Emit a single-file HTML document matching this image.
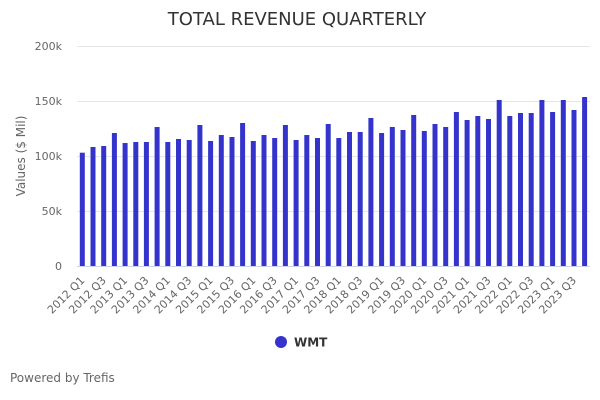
<!DOCTYPE html>
<html>
<head>
<meta charset="utf-8">
<style>
html,body{margin:0;padding:0;background:#fff;}
svg{display:block;font-family:"DejaVu Sans","Liberation Sans",sans-serif;}
</style>
</head>
<body>
<svg width="600" height="400" viewBox="0 0 600 400" xmlns="http://www.w3.org/2000/svg">
<rect x="0" y="0" width="600" height="400" fill="#ffffff"/>
<text x="297" y="25" text-anchor="middle" font-size="18" fill="#333333">TOTAL REVENUE QUARTERLY</text>
<g stroke="#e6e6e6" stroke-width="1">
<line x1="77" y1="46.5" x2="590" y2="46.5"/>
<line x1="77" y1="101.5" x2="590" y2="101.5"/>
<line x1="77" y1="156.5" x2="590" y2="156.5"/>
<line x1="77" y1="211.5" x2="590" y2="211.5"/>
</g>
<g font-size="11" fill="#666666" text-anchor="end">
<text x="62" y="50">200k</text>
<text x="62" y="105">150k</text>
<text x="62" y="160">100k</text>
<text x="62" y="215">50k</text>
<text x="62" y="270">0</text>
</g>
<text transform="translate(25,156) rotate(-90)" text-anchor="middle" font-size="12" fill="#666666">Values ($ Mil)</text>
<g fill="#3434cc">
<rect x="79.8" y="152.7" width="5" height="113.3"/>
<rect x="90.5" y="147" width="5" height="119"/>
<rect x="101.2" y="146" width="5" height="120"/>
<rect x="111.9" y="133" width="5" height="133"/>
<rect x="122.6" y="143" width="5" height="123"/>
<rect x="133.3" y="142" width="5" height="124"/>
<rect x="143.9" y="142" width="5" height="124"/>
<rect x="154.6" y="127" width="5" height="139"/>
<rect x="165.3" y="142" width="5" height="124"/>
<rect x="176.0" y="139" width="5" height="127"/>
<rect x="186.7" y="140" width="5" height="126"/>
<rect x="197.4" y="125" width="5" height="141"/>
<rect x="208.1" y="141" width="5" height="125"/>
<rect x="218.8" y="135" width="5" height="131"/>
<rect x="229.5" y="137" width="5" height="129"/>
<rect x="240.1" y="123" width="5" height="143"/>
<rect x="250.8" y="141" width="5" height="125"/>
<rect x="261.5" y="135" width="5" height="131"/>
<rect x="272.2" y="138" width="5" height="128"/>
<rect x="282.9" y="125" width="5" height="141"/>
<rect x="293.6" y="140" width="5" height="126"/>
<rect x="304.3" y="135" width="5" height="131"/>
<rect x="315.0" y="138" width="5" height="128"/>
<rect x="325.7" y="124" width="5" height="142"/>
<rect x="336.3" y="138" width="5" height="128"/>
<rect x="347.0" y="132" width="5" height="134"/>
<rect x="357.7" y="132" width="5" height="134"/>
<rect x="368.4" y="118" width="5" height="148"/>
<rect x="379.1" y="133" width="5" height="133"/>
<rect x="389.8" y="127" width="5" height="139"/>
<rect x="400.5" y="130" width="5" height="136"/>
<rect x="411.2" y="115" width="5" height="151"/>
<rect x="421.8" y="131" width="5" height="135"/>
<rect x="432.5" y="124" width="5" height="142"/>
<rect x="443.2" y="127" width="5" height="139"/>
<rect x="453.9" y="112" width="5" height="154"/>
<rect x="464.6" y="120" width="5" height="146"/>
<rect x="475.3" y="116" width="5" height="150"/>
<rect x="486.0" y="119" width="5" height="147"/>
<rect x="496.7" y="100" width="5" height="166"/>
<rect x="507.3" y="116" width="5" height="150"/>
<rect x="518.0" y="113" width="5" height="153"/>
<rect x="528.7" y="113" width="5" height="153"/>
<rect x="539.4" y="100" width="5" height="166"/>
<rect x="550.1" y="112" width="5" height="154"/>
<rect x="560.8" y="100" width="5" height="166"/>
<rect x="571.5" y="110" width="5" height="156"/>
<rect x="582.1" y="97" width="5" height="169"/>
</g>
<line x1="77" y1="266.5" x2="590" y2="266.5" stroke="#ccd6eb" stroke-width="1"/>
<g font-size="11" fill="#666666" text-anchor="end">
<text x="85.3" y="281" transform="rotate(-45 85.3 281)">2012 Q1</text>
<text x="106.7" y="281" transform="rotate(-45 106.7 281)">2012 Q3</text>
<text x="128.1" y="281" transform="rotate(-45 128.1 281)">2013 Q1</text>
<text x="149.4" y="281" transform="rotate(-45 149.4 281)">2013 Q3</text>
<text x="170.8" y="281" transform="rotate(-45 170.8 281)">2014 Q1</text>
<text x="192.2" y="281" transform="rotate(-45 192.2 281)">2014 Q3</text>
<text x="213.6" y="281" transform="rotate(-45 213.6 281)">2015 Q1</text>
<text x="234.9" y="281" transform="rotate(-45 234.9 281)">2015 Q3</text>
<text x="256.3" y="281" transform="rotate(-45 256.3 281)">2016 Q1</text>
<text x="277.7" y="281" transform="rotate(-45 277.7 281)">2016 Q3</text>
<text x="299.1" y="281" transform="rotate(-45 299.1 281)">2017 Q1</text>
<text x="320.4" y="281" transform="rotate(-45 320.4 281)">2017 Q3</text>
<text x="341.8" y="281" transform="rotate(-45 341.8 281)">2018 Q1</text>
<text x="363.2" y="281" transform="rotate(-45 363.2 281)">2018 Q3</text>
<text x="384.6" y="281" transform="rotate(-45 384.6 281)">2019 Q1</text>
<text x="405.9" y="281" transform="rotate(-45 405.9 281)">2019 Q3</text>
<text x="427.3" y="281" transform="rotate(-45 427.3 281)">2020 Q1</text>
<text x="448.7" y="281" transform="rotate(-45 448.7 281)">2020 Q3</text>
<text x="470.1" y="281" transform="rotate(-45 470.1 281)">2021 Q1</text>
<text x="491.4" y="281" transform="rotate(-45 491.4 281)">2021 Q3</text>
<text x="512.8" y="281" transform="rotate(-45 512.8 281)">2022 Q1</text>
<text x="534.2" y="281" transform="rotate(-45 534.2 281)">2022 Q3</text>
<text x="555.6" y="281" transform="rotate(-45 555.6 281)">2023 Q1</text>
<text x="576.9" y="281" transform="rotate(-45 576.9 281)">2023 Q3</text>
</g>
<circle cx="281" cy="342" r="6" fill="#3434cc"/>
<text x="294" y="346.5" font-size="12" font-weight="bold" fill="#333333">WMT</text>
<text x="10" y="382" font-size="12" fill="#666666">Powered by Trefis</text>
</svg>
</body>
</html>
